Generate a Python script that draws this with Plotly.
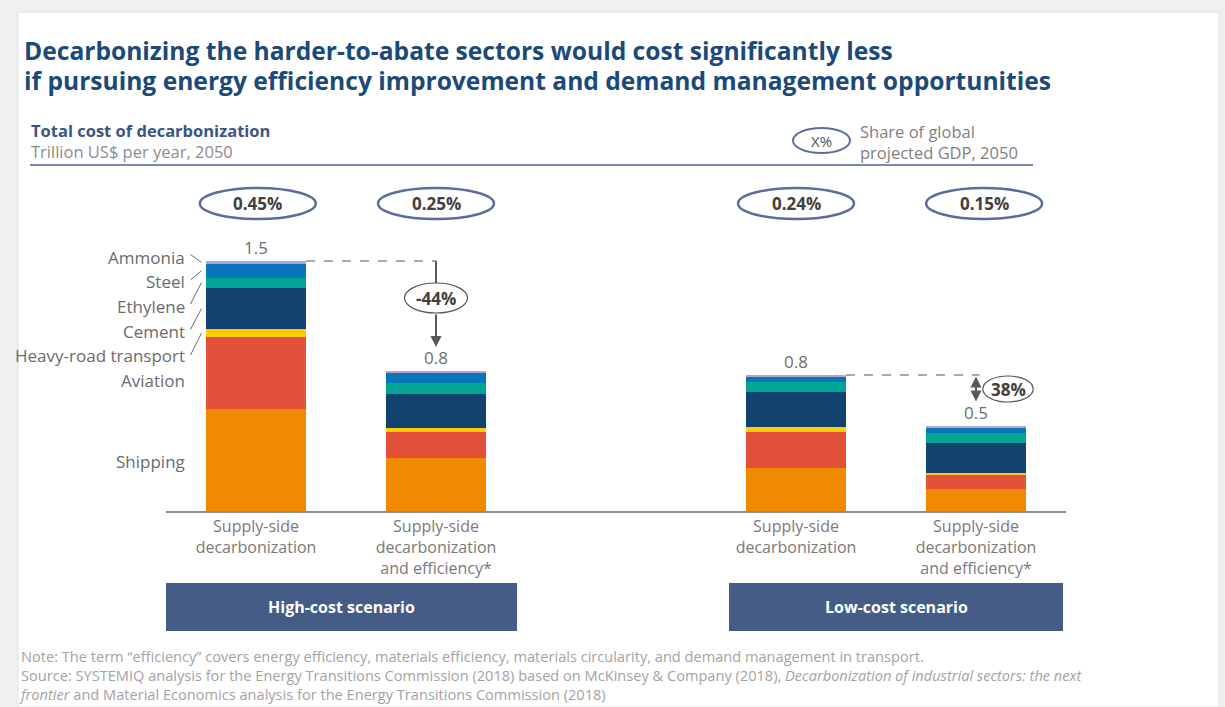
import plotly.graph_objects as go

W, H = 1225, 707
FONT = "Open Sans"

# ---- data: total cost of decarbonization, trillion US$ per year, 2050 ----
bar_labels = [
    "Supply-side<br>decarbonization",
    "Supply-side<br>decarbonization<br>and efficiency*",
    "Supply-side<br>decarbonization",
    "Supply-side<br>decarbonization<br>and efficiency*",
]
bar_pos = [0, 1, 3, 4]

# stacked from the bottom up
sectors = ["Shipping", "Aviation", "Heavy-road transport", "Cement", "Ethylene", "Steel", "Ammonia"]
sector_colors = ["#f08a00", "#e4513a", "#ffcc00", "#11426f", "#00a693", "#0a76ba", "#b3a2d3"]

shipping = [0.61, 0.32, 0.26, 0.134]
aviation = [0.434, 0.156, 0.216, 0.08]
heavy_road = [0.046, 0.022, 0.026, 0.012]
cement = [0.25, 0.204, 0.212, 0.184]
ethylene = [0.06, 0.064, 0.062, 0.058]
steel = [0.084, 0.06, 0.03, 0.03]
ammonia = [0.016, 0.014, 0.01, 0.01]
series = [shipping, aviation, heavy_road, cement, ethylene, steel, ammonia]

gdp_share = ["0.45%", "0.25%", "0.24%", "0.15%"]
scenarios = ["High-cost scenario", "Low-cost scenario"]

totals = [sum(s[i] for s in series) for i in range(len(bar_pos))]

# ---- geometry of the plotting area (pixels) ----
X_LEFT, X_RIGHT = 166, 1066          # baseline extent
X_RANGE = [-0.5, 4.5]
Y_BASE, Y_TOP = 511, 211             # baseline and top of y range
Y_MAX = 1.8
BAR_W = 0.556

UNIT_Y = (Y_BASE - Y_TOP) / Y_MAX
UNIT_X = (X_RIGHT - X_LEFT) / (X_RANGE[1] - X_RANGE[0])


def px(x):
    return x / W


def py(y):
    return 1 - y / H


def py_to_val(y):
    return (Y_BASE - y) / UNIT_Y


def px_to_pos(x):
    return X_RANGE[0] + (x - X_LEFT) / UNIT_X


def text(t, x, y, size, color, xref="paper", yref="paper", xanchor="center", yanchor="middle",
         align="center"):
    return dict(text=t, x=x, y=y, xref=xref, yref=yref, xanchor=xanchor, yanchor=yanchor,
                align=align, showarrow=False, font=dict(family=FONT, size=size, color=color))


fig = go.Figure()
for name, color, vals in zip(sectors, sector_colors, series):
    fig.add_trace(go.Bar(
        x=bar_pos, y=vals, name=name, width=BAR_W,
        marker=dict(color=color, line=dict(width=0)),
        showlegend=False, hovertemplate=name + ": %{y:.2f}<extra></extra>",
    ))

shapes = []
annotations = []

# white card on a light grey page
shapes.append(dict(type="rect", xref="paper", yref="paper", layer="below",
                   x0=px(18), x1=px(1219), y0=py(707), y1=py(12),
                   fillcolor="white", line=dict(width=1, color="#e2e2e2")))

# title
title_lines = [
    "Decarbonizing the harder-to-abate sectors would cost significantly less",
    "if pursuing energy efficiency improvement and demand management opportunities",
]
for i, line in enumerate(title_lines):
    annotations.append(text("<b>" + line + "</b>", px(22), py(50 + 30 * i), 24.6, "#1b4a78",
                            xanchor="left"))

# chart header
annotations.append(text("<b>Total cost of decarbonization</b><br>"
                        "<span style='color:#8c8c8c'>Trillion US$ per year, 2050</span>",
                        px(29), py(141), 16.5, "#3b5584", xanchor="left", align="left"))
shapes.append(dict(type="line", xref="paper", yref="paper", x0=px(30), x1=px(1033),
                   y0=py(165), y1=py(165), line=dict(color="#4a6592", width=1.5)))

# GDP-share key
shapes.append(dict(type="circle", xref="paper", yref="paper", x0=px(793), x1=px(850),
                   y0=py(153), y1=py(128), line=dict(color="#5a6d9c", width=2)))
annotations.append(text("X%", px(821.5), py(141), 15, "#555555"))
annotations.append(text("Share of global<br>projected GDP, 2050", px(858), py(142), 16.5, "#7f7f7f",
                        xanchor="left", align="left"))

# GDP-share ovals above each bar
oval_shift = [0.01, 0.0, 0.0, 0.045]
for pos, sh, txt in zip(bar_pos, oval_shift, gdp_share):
    c = pos + sh
    shapes.append(dict(type="circle", xref="x", yref="paper", x0=c - 0.322, x1=c + 0.322,
                       y0=py(219), y1=py(188), line=dict(color="#5a6d9c", width=2.5)))
    annotations.append(text("<b>" + txt + "</b>", c, py(204), 17, "#404040", xref="x"))

# totals on top of bars
for pos, t in zip(bar_pos, totals):
    annotations.append(text(f"{t:.1f}", pos, t, 17, "#6e6e6e", xref="x", yref="y", yanchor="bottom"))

# sector labels with leader lines on the first bar
label_y = {"Ammonia": 257, "Steel": 281, "Ethylene": 306, "Cement": 331,
           "Heavy-road transport": 356, "Aviation": 381, "Shipping": 461}
leader_start = {"Ammonia": 254.5, "Steel": 280, "Ethylene": 304, "Cement": 329.5,
                "Heavy-road transport": 355}
cum = 0.0
mids = {}
for name, vals in zip(sectors, series):
    mids[name] = cum + vals[0] / 2
    cum += vals[0]
for name in sectors:
    annotations.append(text(name, px(187), py(label_y[name]), 17, "#6b6b6b", xanchor="right"))
    if name in leader_start:
        shapes.append(dict(type="line", xref="x", yref="y",
                           x0=px_to_pos(190.5), y0=py_to_val(leader_start[name]),
                           x1=bar_pos[0] - BAR_W / 2 - 0.025, y1=mids[name],
                           line=dict(color="#6b6b6b", width=1)))

arrow_col = "#595959"

# high-cost scenario: reduction from bar 1 to bar 2
hi_red = (totals[0] - totals[1]) / totals[0]
shapes.append(dict(type="line", xref="x", yref="y", x0=bar_pos[0] + BAR_W / 2, x1=bar_pos[1],
                   y0=totals[0], y1=totals[0], line=dict(color="#555555", width=1.2, dash="dash")))
oval_c = py_to_val(298)
oval_h = 30 / UNIT_Y
shapes.append(dict(type="line", xref="x", yref="y", x0=bar_pos[1], x1=bar_pos[1],
                   y0=totals[0], y1=oval_c + oval_h / 2, line=dict(color=arrow_col, width=2)))
shapes.append(dict(type="circle", xref="x", yref="y", x0=bar_pos[1] - 0.175, x1=bar_pos[1] + 0.175,
                   y0=oval_c - oval_h / 2, y1=oval_c + oval_h / 2,
                   line=dict(color="#555555", width=1.2), fillcolor="white"))
annotations.append(text(f"<b>-{hi_red * 100:.0f}%</b>", bar_pos[1], oval_c, 17, "#404040",
                        xref="x", yref="y"))
annotations.append(dict(text="", xref="x", yref="y", axref="x", ayref="y",
                        x=bar_pos[1], y=totals[1] + py_to_val(Y_BASE - 24),
                        ax=bar_pos[1], ay=oval_c - oval_h / 2,
                        showarrow=True, arrowhead=2, arrowsize=1.1, arrowwidth=2, arrowcolor=arrow_col,
                        standoff=0, startstandoff=0))

# low-cost scenario: reduction from bar 3 to bar 4
lo_red = (totals[2] - totals[3]) / totals[2]
shapes.append(dict(type="line", xref="x", yref="y", x0=bar_pos[2] + BAR_W / 2, x1=bar_pos[3] + 0.02,
                   y0=totals[2], y1=totals[2], line=dict(color="#555555", width=1.2, dash="dash")))
annotations.append(dict(text="", xref="x", yref="y", axref="x", ayref="y",
                        x=bar_pos[3], y=totals[2] - py_to_val(Y_BASE - 1.5),
                        ax=bar_pos[3], ay=py_to_val(403),
                        showarrow=True, arrowhead=2, arrowside="end+start", arrowsize=1.1,
                        arrowwidth=2, arrowcolor=arrow_col, standoff=0, startstandoff=0))
lo_c_y = py_to_val(389)
lo_c_x = px_to_pos(1008)
lo_h = 26 / UNIT_Y
shapes.append(dict(type="circle", xref="x", yref="y", x0=lo_c_x - 0.14, x1=lo_c_x + 0.14,
                   y0=lo_c_y - lo_h / 2, y1=lo_c_y + lo_h / 2,
                   line=dict(color="#555555", width=1.2), fillcolor="white"))
annotations.append(text(f"<b>{lo_red * 100:.0f}%</b>", lo_c_x, lo_c_y, 17, "#404040",
                        xref="x", yref="y"))

# scenario boxes
box_spans = [(px_to_pos(166), px_to_pos(517)), (px_to_pos(729), px_to_pos(1063))]
for (a, b), name in zip(box_spans, scenarios):
    shapes.append(dict(type="rect", xref="x", yref="paper", x0=a, x1=b, y0=py(631), y1=py(583),
                       fillcolor="#445c86", line=dict(width=0)))
    annotations.append(text("<b>" + name + "</b>", (a + b) / 2, py(607), 16, "white", xref="x"))

# footnotes, one block so the lines share a single line spacing
notes = [
    "Note: The term \u201cefficiency\u201d covers energy efficiency, materials efficiency, materials circularity, "
    "and demand management in transport.",
    "Source: SYSTEMIQ analysis for the Energy Transitions Commission (2018) based on McKinsey &amp; Company (2018), "
    "<i>Decarbonization of industrial sectors: the next</i>",
    "<i>frontier</i> and Material Economics analysis for the Energy Transitions Commission (2018)",
]
annotations.append(text("<br>".join(notes), px(17), py(675), 14.6, "#a3a3a3", xanchor="left",
                        align="left"))

fig.update_layout(
    width=W, height=H, margin=dict(l=0, r=0, t=0, b=0),
    paper_bgcolor="#efefef", plot_bgcolor="rgba(0,0,0,0)",
    barmode="stack", font=dict(family=FONT),
    xaxis=dict(domain=[px(X_LEFT), px(X_RIGHT)], range=X_RANGE, showline=True, linecolor="#8c8c8c",
               linewidth=1.5, tickvals=bar_pos, ticktext=bar_labels, ticks="", showgrid=False,
               zeroline=False, fixedrange=True, tickfont=dict(family=FONT, size=16, color="#7a7a7a")),
    yaxis=dict(domain=[py(Y_BASE), py(Y_TOP)], range=[0, Y_MAX], visible=False, fixedrange=True),
    shapes=shapes, annotations=annotations,
)

fig.write_html("out.html")
